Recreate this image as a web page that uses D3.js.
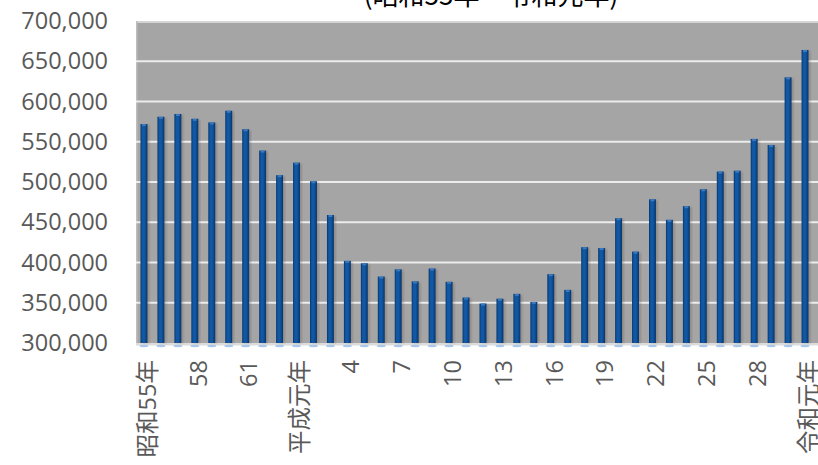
<!DOCTYPE html>
<html>
<head>
<meta charset="utf-8">
<script src="https://cdn.jsdelivr.net/npm/d3@7"></script>
<style>
  html, body { margin: 0; padding: 0; background: #ffffff; }
  svg { display: block; }
</style>
</head>
<body>
<svg id="chart" width="818" height="465"></svg>
<script>
// Fiscal years, 昭和55年 through 令和元年
const categories = [
  "昭和55年", "56", "57", "58", "59", "60", "61", "62", "63",
  "平成元年", "2", "3", "4", "5", "6", "7", "8", "9", "10",
  "11", "12", "13", "14", "15", "16", "17", "18", "19", "20",
  "21", "22", "23", "24", "25", "26", "27", "28", "29", "30",
  "令和元年"
];

// Yearly totals
const values = [
  572000, 581000, 584500, 578500, 574000, 588500, 565500, 539000, 508500,
  524000, 501000, 459000, 402000, 399000, 382500, 391500, 376500, 392500, 376000,
  356500, 349000, 355000, 361000, 351000, 385500, 366000, 419000, 418000, 455000,
  413500, 478500, 453000, 470000, 491000, 513000, 514000, 553500, 546000, 630000,
  664000
];

// Axis ticks
const yTicks = [300000, 350000, 400000, 450000, 500000, 550000, 600000, 650000, 700000];
const xTickLabels = ["昭和55年", "58", "61", "平成元年", "4", "7", "10", "13", "16", "19", "22", "25", "28", "令和元年"];

const titleText = "(昭和55年～令和元年)";

const svg = d3.select("#chart");
const plot = { left: 136, right: 818, top: 21, bottom: 343 };

const x = d3.scaleBand()
  .domain(categories)
  .range([135.5, 813.5])
  .paddingInner(0.59)
  .paddingOuter(0.295);

const y = d3.scaleLinear()
  .domain([300000, 700000])
  .range([plot.bottom, plot.top]);

const defs = svg.append("defs");
const grad = defs.append("linearGradient").attr("id", "barGrad")
  .attr("x1", "0").attr("x2", "1").attr("y1", "0").attr("y2", "0");
[["0%", "#083568"], ["25%", "#0f56a3"], ["55%", "#1159a6"], ["100%", "#07356a"]]
  .forEach(([o, c]) => grad.append("stop").attr("offset", o).attr("stop-color", c));
defs.append("filter").attr("id", "soft")
  .append("feGaussianBlur").attr("stdDeviation", 1.2);

// Title (upper part runs off the top edge)
svg.append("text")
  .attr("x", 491).attr("y", 5)
  .attr("text-anchor", "middle")
  .attr("font-family", "'Noto Sans CJK JP', 'Noto Sans', sans-serif")
  .attr("font-size", 26)
  .attr("fill", "#000")
  .text(titleText);

// Plot background
svg.append("rect")
  .attr("x", plot.left).attr("y", plot.top)
  .attr("width", plot.right - plot.left).attr("height", plot.bottom - plot.top)
  .attr("fill", "#a5a5a5");
svg.append("rect")
  .attr("x", plot.left).attr("y", plot.top)
  .attr("width", plot.right - plot.left).attr("height", 2)
  .attr("fill", "#d4d4d4");
svg.append("rect")
  .attr("x", plot.left).attr("y", plot.top)
  .attr("width", 1.5).attr("height", plot.bottom - plot.top)
  .attr("fill", "#bdbdbd");

// Gridlines
svg.append("g")
  .selectAll("line")
  .data(yTicks.filter(t => t > 300000 && t < 700000))
  .join("line")
  .attr("x1", plot.left).attr("x2", plot.right)
  .attr("y1", d => y(d)).attr("y2", d => y(d))
  .attr("stroke", "#ececec").attr("stroke-width", 2);

// Floor strip
svg.append("rect")
  .attr("x", plot.left).attr("y", plot.bottom)
  .attr("width", plot.right - plot.left).attr("height", 2.5)
  .attr("fill", "#dcdcdc");

// Bars: soft shadow, body, cap, floor reflection
const bars = svg.append("g");
bars.selectAll("rect.shadow")
  .data(values)
  .join("rect")
  .attr("class", "shadow")
  .attr("x", (d, i) => x(categories[i]) + 2)
  .attr("y", d => y(d) + 1)
  .attr("width", x.bandwidth())
  .attr("height", d => plot.bottom - y(d) - 1)
  .attr("fill", "#6e5a50").attr("opacity", 0.35)
  .attr("filter", "url(#soft)");
bars.selectAll("rect.bar")
  .data(values)
  .join("rect")
  .attr("class", "bar")
  .attr("x", (d, i) => x(categories[i]))
  .attr("y", d => y(d))
  .attr("width", x.bandwidth())
  .attr("height", d => plot.bottom - y(d))
  .attr("fill", "url(#barGrad)");
bars.selectAll("rect.cap")
  .data(values)
  .join("rect")
  .attr("class", "cap")
  .attr("x", (d, i) => x(categories[i]) + 1.5)
  .attr("y", d => y(d))
  .attr("width", x.bandwidth() - 3)
  .attr("height", 2)
  .attr("fill", "#3d79bd");
bars.selectAll("ellipse")
  .data(values)
  .join("ellipse")
  .attr("cx", (d, i) => x(categories[i]) + x.bandwidth() / 2)
  .attr("cy", plot.bottom + 3)
  .attr("rx", x.bandwidth() / 2 + 1)
  .attr("ry", 1.2)
  .attr("fill", "#a9c8ea");

// Y axis labels
const yAxis = d3.axisLeft(y)
  .tickValues(yTicks)
  .tickFormat(d3.format(","))
  .tickSize(0)
  .tickPadding(0);
const gy = svg.append("g")
  .attr("transform", "translate(108,0)")
  .call(yAxis);
gy.select(".domain").remove();
gy.selectAll("text")
  .attr("font-family", "'Open Sans', 'Noto Sans', sans-serif")
  .attr("font-size", 23.5)
  .attr("fill", "#595959");

// X axis labels, rotated
const xAxis = d3.axisBottom(x)
  .tickValues(xTickLabels)
  .tickSize(0)
  .tickPadding(0);
const gx = svg.append("g")
  .attr("transform", `translate(0,${plot.bottom})`)
  .call(xAxis);
gx.select(".domain").remove();
gx.selectAll("text")
  .attr("font-family", "'Open Sans', 'Noto Sans CJK JP', sans-serif")
  .attr("font-size", 23.5)
  .attr("fill", "#595959")
  .attr("text-anchor", "end")
  .attr("transform", "rotate(-90)")
  .attr("x", -17)
  .attr("y", 0)
  .attr("dy", "0.5em");
</script>
</body>
</html>
